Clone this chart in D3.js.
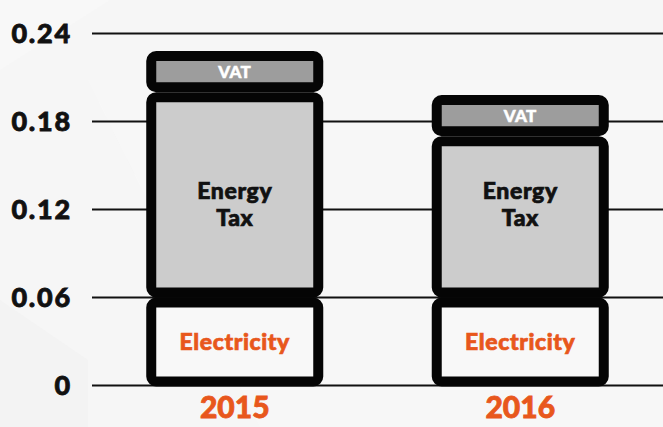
<!DOCTYPE html>
<html>
<head>
<meta charset="utf-8">
<script src="https://cdn.jsdelivr.net/npm/d3@7"></script>
<style>
  html, body { margin: 0; padding: 0; background: #f6f6f6; }
  svg { display: block; font-family: Lato, "Open Sans", sans-serif; }
</style>
</head>
<body>
<svg id="chart" width="663" height="427"></svg>
<script>
// ---- data ----
const years = ["2015", "2016"];
const electricity = [0.06, 0.06];
const energyTax = [0.14, 0.11];
const vat = [0.028, 0.028];
const yTicks = [0, 0.06, 0.12, 0.18, 0.24];
const seriesNames = ["Electricity", "Energy Tax", "VAT"];

// ---- setup ----
const W = 663, H = 427;
const svg = d3.select("#chart");
const plot = { left: 92, right: 663, top: 33.5, bottom: 385.5 };

// subtle background shapes
svg.append("rect").attr("width", W).attr("height", H).attr("fill", "#f6f6f6");
svg.append("polygon").attr("points", "0,0 110,0 0,70").attr("fill", "#f8f8f8");
svg.append("polygon").attr("points", "88,80 663,80 663,427 260,427").attr("fill", "#f8f8f8").attr("opacity", 0.6);
svg.append("polygon").attr("points", "0,300 88,360 88,427 0,427").attr("fill", "#f3f3f3");

const x = d3.scaleBand().domain(years).range([plot.left, plot.right])
  .paddingInner(0.38).paddingOuter(0.19);
const y = d3.scaleLinear().domain([0, 0.24]).range([plot.bottom, plot.top]);

// gridlines
svg.append("g").selectAll("line").data(yTicks).join("line")
  .attr("x1", plot.left).attr("x2", plot.right)
  .attr("y1", d => y(d)).attr("y2", d => y(d))
  .attr("stroke", "#111").attr("stroke-width", 2);

// tick labels
svg.append("g").selectAll("text").data(yTicks).join("text")
  .attr("x", 72).attr("y", d => y(d)).attr("dy", "0.36em")
  .attr("text-anchor", "end")
  .attr("font-size", 27).attr("font-weight", 900)
  .attr("letter-spacing", 1.8)
  .attr("fill", "#111").attr("stroke", "#111").attr("stroke-width", 0.8)
  .text(d => d === 0 ? "0" : d3.format(".2f")(d));

// stack
const table = years.map((yr, i) => ({ year: yr, "Electricity": electricity[i], "Energy Tax": energyTax[i], "VAT": vat[i] }));
const stack = d3.stack().keys(seriesNames)(table);
const fills = { "Electricity": "#f8f8f8", "Energy Tax": "#cccccc", "VAT": "#9d9d9d" };
const sw = 10;

const layers = svg.append("g").selectAll("g").data(stack).join("g");
layers.selectAll("rect").data(d => d.map(p => ({ key: d.key, p }))).join("rect")
  .attr("x", d => x(d.p.data.year) + sw / 2)
  .attr("y", d => y(d.p[1]) + sw / 2)
  .attr("width", x.bandwidth() - sw)
  .attr("height", d => Math.max(0, y(d.p[0]) - y(d.p[1]) - sw + (d.key === "Electricity" ? 1 : 0)))
  .attr("rx", 5).attr("ry", 5)
  .attr("fill", d => fills[d.key])
  .attr("stroke", "#050505").attr("stroke-width", sw);

// labels
const cx = yr => x(yr) + x.bandwidth() / 2;
const energyLabelValue = 0.124;
const orange = "#e8571c";

stack.forEach(layer => {
  layer.forEach(p => {
    const yr = p.data.year;
    if (layer.key === "VAT") {
      svg.append("text").attr("x", cx(yr)).attr("y", (y(p[0]) + y(p[1])) / 2).attr("dy", "0.36em")
        .attr("text-anchor", "middle").attr("font-size", 17).attr("font-weight", 900)
        .attr("letter-spacing", 0.3)
        .attr("fill", "#fff").attr("stroke", "#fff").attr("stroke-width", 0.5).text("VAT");
    } else if (layer.key === "Energy Tax") {
      const t = svg.append("text").attr("x", cx(yr)).attr("y", y(energyLabelValue))
        .attr("text-anchor", "middle").attr("font-size", 23).attr("font-weight", 900)
        .attr("letter-spacing", 0.6)
        .attr("fill", "#111").attr("stroke", "#111").attr("stroke-width", 0.7);
      t.append("tspan").attr("x", cx(yr)).attr("dy", "-0.22em").text("Energy");
      t.append("tspan").attr("x", cx(yr)).attr("dy", "1.18em").text("Tax");
    } else {
      svg.append("text").attr("x", cx(yr)).attr("y", (y(p[0]) + y(p[1])) / 2).attr("dy", "0.36em")
        .attr("text-anchor", "middle").attr("font-size", 23).attr("font-weight", 900)
        .attr("letter-spacing", 0.6)
        .attr("fill", orange).attr("stroke", orange).attr("stroke-width", 0.7).text("Electricity");
    }
  });
});

// year labels
svg.append("g").selectAll("text").data(years).join("text")
  .attr("x", d => cx(d)).attr("y", 418)
  .attr("text-anchor", "middle").attr("font-size", 30).attr("font-weight", 900)
  .attr("fill", orange).attr("stroke", orange).attr("stroke-width", 0.8).text(d => d);
</script>
</body>
</html>
